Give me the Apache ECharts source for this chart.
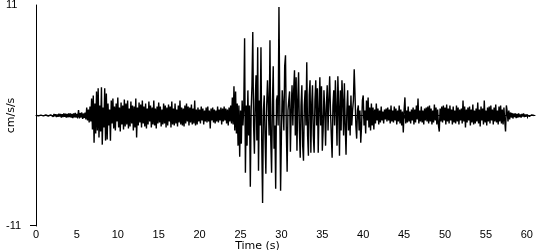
<!DOCTYPE html>
<html>
<head>
<meta charset="utf-8">
<script src="https://cdn.jsdelivr.net/npm/echarts@6/dist/echarts.min.js"></script>
<style>html,body{margin:0;padding:0;background:#fff}#c{width:550px;height:250px}</style>
</head>
<body>
<div id="c"></div>
<script>
// Sampling interval of the record (seconds between readings)
var sampleInterval = 0.1;
// Acceleration readings (cm/s/s), one row per second of record
var accel = [
  0.02,-0.05,0.06,-0.04,0.05,-0.06,0.04,-0.05,0.07,-0.03,
  0.06,-0.08,0.05,-0.07,0.09,-0.05,0.08,-0.1,0.06,-0.08,
  0.1,-0.12,0.15,-0.08,0.12,-0.15,0.1,-0.12,0.18,-0.1,
  0.15,-0.2,0.12,-0.15,0.2,-0.12,0.18,-0.2,0.15,-0.18,
  0.2,-0.15,0.22,-0.2,0.15,-0.25,0.2,-0.18,0.25,-0.2,
  0.15,-0.2,0.55,-0.3,0.25,-0.2,0.3,-0.35,0.2,-0.25,
  0.3,-0.4,0.8,-0.5,0.6,-0.7,0.9,-0.6,1.7,-1.4,
  2.0,-2.7,1.2,-1.8,2.4,-1.5,2.7,-2.2,1.0,-1.6,
  2.8,-2.9,0.8,-1.2,2.7,-2.5,2.2,-2.4,1.2,-1.0,
  0.6,-2.5,1.5,-0.8,1.7,-1.3,0.9,-1.5,1.2,-0.6,
  1.8,-1.2,0.8,-1.6,1.3,-0.9,1.0,-1.4,1.6,-1.1,
  1.2,-0.9,1.5,-1.3,0.7,-1.1,1.4,-0.8,1.0,-1.5,
  0.9,-1.2,1.7,-2.2,0.8,-1.0,1.3,-0.7,1.1,-1.2,
  1.5,-0.8,0.9,-1.1,1.2,-1.3,0.7,-0.9,1.4,-0.6,
  1.0,-1.2,0.8,-0.9,1.5,-1.0,0.7,-1.3,0.9,-0.8,
  1.3,-0.7,0.9,-1.1,0.6,-0.9,1.2,-0.8,1.0,-1.2,
  0.8,-1.0,1.1,-0.6,0.9,-1.2,1.4,-0.9,0.7,-1.0,
  1.2,-0.8,0.6,-1.1,1.0,-0.7,1.5,-0.9,0.8,-1.0,
  0.7,-1.1,1.0,-0.8,1.2,-0.6,0.9,-1.0,0.8,-0.7,
  1.1,-0.9,0.7,-0.8,1.5,-1.0,0.6,-0.9,0.8,-0.6,
  0.6,-0.8,0.9,-0.5,0.7,-0.9,0.5,-0.6,0.8,-0.7,
  0.9,-0.6,0.5,-1.3,0.7,-0.5,0.8,-0.7,0.6,-0.8,
  0.5,-0.6,0.9,-0.7,0.6,-0.5,0.8,-0.9,0.7,-0.6,
  0.9,-0.5,0.7,-0.8,0.6,-1.0,0.8,-0.6,1.0,-0.8,
  1.8,-0.9,2.9,-1.5,2.4,-1.8,1.2,-3.0,1.0,-4.1,
  0.5,-2.8,1.5,-1.0,0.8,7.7,-5.7,1.0,-3.0,2.5,
  -2.0,1.0,-7.1,0.5,3.0,8.3,-1.0,-3.8,1.5,4.0,
  -2.5,6.8,-5.5,1.5,-1.0,6.8,-3.0,-8.7,0.5,2.0,
  -2.0,-5.8,1.0,3.5,1.0,-2.0,7.5,-2.5,-5.7,1.0,
  4.9,-3.3,-1.0,-7.3,1.5,2.0,-1.0,10.8,1.0,-7.5,
  -2.0,2.5,1.0,-1.5,4.9,6.0,-1.5,-5.6,0.5,1.5,
  2.4,-3.6,0.5,3.0,-1.0,2.5,4.5,-2.0,3.8,-3.5,
  1.5,4.3,-1.5,-4.2,1.0,3.0,-3.0,-4.5,1.0,2.5,
  -1.0,5.3,-2.0,-4.0,2.0,3.5,-3.7,1.0,3.0,-2.0,
  -3.7,1.5,3.5,-1.0,2.7,-3.7,0.5,3.8,-1.0,2.9,
  -3.5,-1.5,2.5,0.5,-3.0,1.0,3.0,-1.5,1.5,3.9,
  0.5,-2.0,-4.2,1.0,2.5,-1.0,3.5,0.5,-3.0,3.9,
  1.0,-4.0,2.5,-1.5,3.5,1.5,-2.0,3.2,-1.0,-3.9,
  0.5,2.5,-1.5,1.0,-2.0,2.0,-1.0,0.5,1.5,4.6,
  2.0,-1.0,-2.3,0.5,1.0,-1.5,0.5,-2.7,-1.0,1.5,
  2.0,-1.0,0.5,-1.8,1.5,-0.5,1.8,-1.2,0.8,-1.5,
  1.2,-1.0,0.8,-1.4,0.6,-0.8,1.2,-0.5,0.7,-0.9,
  0.5,-0.7,0.9,-0.5,0.4,-0.8,0.6,-0.4,0.7,-0.6,
  0.8,-0.5,0.6,-0.8,1.0,-0.6,0.5,-0.7,0.9,-0.5,
  0.7,-0.9,0.5,-0.6,1.0,-0.8,0.6,-1.0,0.4,-1.7,
  0.6,1.8,-0.8,0.5,-0.7,0.9,-0.6,0.4,-0.8,0.6,
  -0.5,0.8,-0.9,0.6,-0.7,1.0,-0.4,1.7,-0.8,0.5,
  -0.6,0.9,-0.7,0.5,-0.9,0.7,-0.5,0.8,-0.6,0.9,
  -0.8,1.0,-0.6,0.7,-0.9,0.5,-0.7,1.1,-0.5,0.8,
  -0.9,0.6,-1.0,-1.6,0.7,-0.6,0.9,-0.7,1.0,-0.5,
  0.8,-0.9,1.1,-0.6,0.7,-0.8,1.0,-0.5,0.6,-0.9,
  0.9,-0.7,0.5,-0.8,1.0,-0.6,0.8,-0.9,0.6,-0.5,
  0.7,-0.8,1.5,-0.6,0.9,-1.2,0.6,-0.7,0.8,-0.5,
  0.9,-1.0,0.6,-0.7,1.1,-0.9,0.5,-0.8,0.7,-0.6,
  1.3,-0.8,0.6,-1.1,0.9,-0.5,0.7,-0.9,1.5,-0.7,
  0.5,-1.0,0.8,-0.6,0.9,-0.8,1.0,-0.5,0.6,-0.9,
  0.8,-0.6,1.1,-0.7,0.5,-0.9,0.9,-0.6,1.0,-0.8,
  0.6,-0.9,0.8,-0.5,-1.6,1.0,0.4,-0.6,0.5,-0.4,
  0.3,-0.2,0.25,-0.3,0.2,-0.15,0.2,-0.25,0.15,-0.2,
  0.2,-0.15,0.1,-0.2,0.15,-0.1,0.2,-0.15,0.1,-0.12,
  0.1,-0.08,0.12,-0.1,0.08,-0.1,0.06,-0.08,0.05,0.0
];
var timeTicks = [0,5,10,15,20,25,30,35,40,45,50,55,60];
var accelTicks = [-11, 11];
var xLabel = 'Time (s)';
var yLabel = 'cm/s/s';

var seriesData = accel.map(function (v, i) { return [+(i * sampleInterval).toFixed(2), v]; });

var chart = echarts.init(document.getElementById('c'), null, { renderer: 'canvas' });
chart.setOption({
  animation: false,
  backgroundColor: '#fff',
  grid: { left: 36, right: 15, top: 5, bottom: 24, containLabel: false, outerBoundsMode: 'none' },
  xAxis: {
    type: 'value', min: 0, max: 61, interval: 5,
    name: xLabel, nameLocation: 'middle', nameGap: 15, nameMoveOverlap: false,
    nameTextStyle: { color: '#000', fontFamily: 'DejaVu Sans', fontSize: 11, padding: [0, 56, 0, 0] },
    axisLine: { show: true, lineStyle: { color: '#000', width: 1 } },
    axisTick: { show: true, length: 3, lineStyle: { color: '#000' } },
    axisLabel: {
      color: '#000', fontFamily: 'Liberation Sans', fontSize: 11, margin: 3,
      showMaxLabel: false,
      formatter: function (v) { return timeTicks.indexOf(v) >= 0 ? String(v) : ''; }
    },
    splitLine: { show: false }
  },
  yAxis: {
    type: 'value', min: accelTicks[0], max: accelTicks[1], interval: 22,
    name: yLabel, nameLocation: 'middle', nameGap: 19, nameRotate: 90, nameMoveOverlap: false,
    nameTextStyle: { color: '#000', fontFamily: 'DejaVu Sans', fontSize: 11 },
    axisLine: { show: true, lineStyle: { color: '#000', width: 1 } },
    axisTick: { show: false },
    axisLabel: { color: '#000', fontFamily: 'Liberation Sans', fontSize: 11, align: 'left', margin: 30 },
    splitLine: { show: false }
  },
  series: [{
    type: 'line', data: seriesData, showSymbol: false, symbol: 'none',
    lineStyle: { color: '#000', width: 1.4 }, silent: true
  }]
});
// short extension of the time axis line to the left of the value axis
var origin = chart.convertToPixel({ gridIndex: 0 }, [0, accelTicks[0]]);
chart.setOption({
  graphic: [{
    type: 'line', silent: true,
    shape: { x1: origin[0] - 6, y1: Math.round(origin[1]) - 0.5, x2: origin[0], y2: Math.round(origin[1]) - 0.5 },
    style: { stroke: '#000', lineWidth: 1 }
  }]
});
</script>
</body>
</html>
